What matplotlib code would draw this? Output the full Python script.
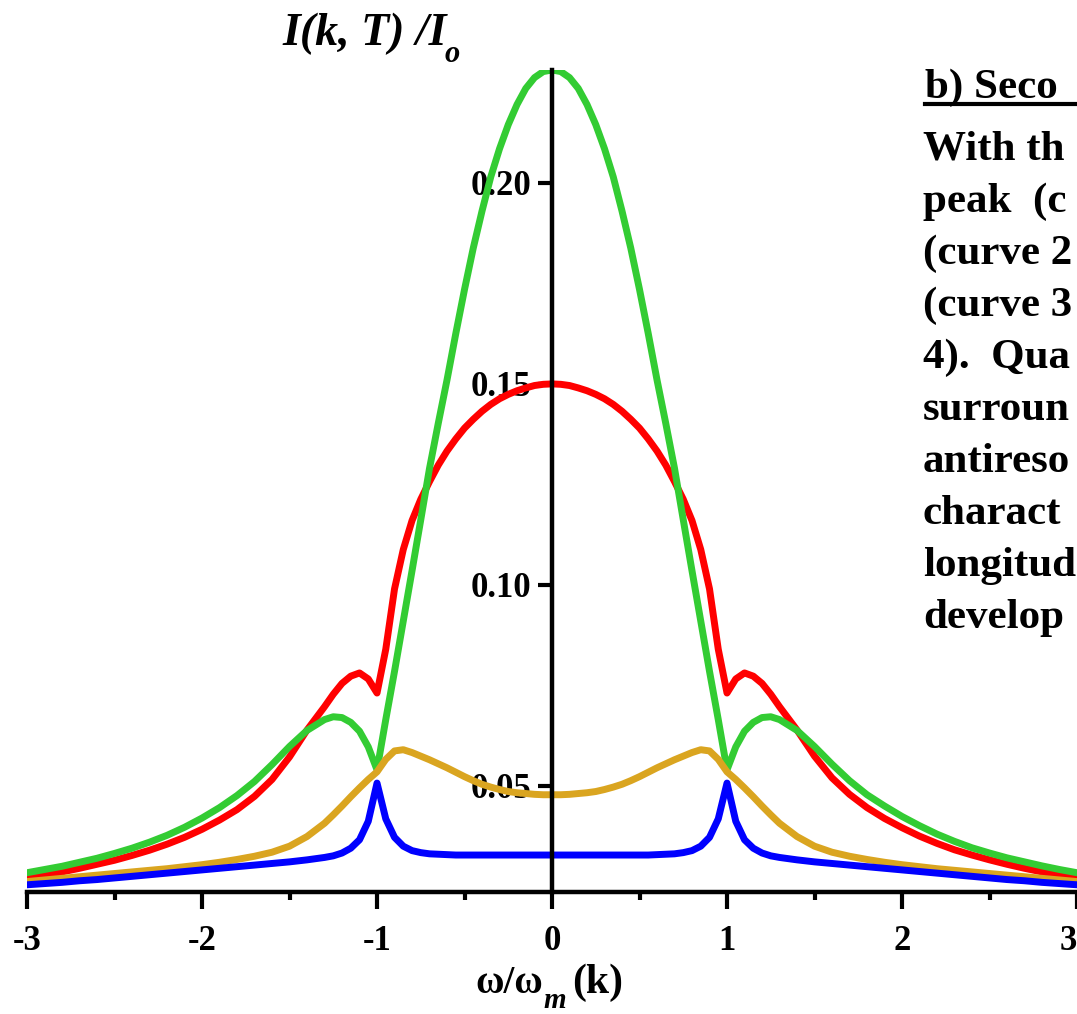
import matplotlib
matplotlib.use("Agg")
import matplotlib.pyplot as plt
from matplotlib.lines import Line2D

# frequency grid (omega / omega_m), finer around the resonances
w = [-3.0, -2.9, -2.8, -2.7, -2.6, -2.5, -2.4, -2.3, -2.2, -2.1, -2.0, -1.9, -1.8, -1.7,
     -1.6, -1.5, -1.4, -1.3, -1.25, -1.2, -1.15, -1.1, -1.05, -1.0, -0.95, -0.9, -0.85,
     -0.8, -0.75, -0.7, -0.65, -0.6, -0.55, -0.5, -0.45, -0.4, -0.35, -0.3, -0.25, -0.2,
     -0.15, -0.1, -0.05, 0.0, 0.05, 0.1, 0.15, 0.2, 0.25, 0.3, 0.35, 0.4, 0.45, 0.5, 0.55,
     0.6, 0.65, 0.7, 0.75, 0.8, 0.85, 0.9, 0.95, 1.0, 1.05, 1.1, 1.15, 1.2, 1.25, 1.3, 1.4,
     1.5, 1.6, 1.7, 1.8, 1.9, 2.0, 2.1, 2.2, 2.3, 2.4, 2.5, 2.6, 2.7, 2.8, 2.9, 3.0]

red = [0.0271, 0.0278, 0.0286, 0.0295, 0.0305, 0.0315, 0.0327, 0.0340, 0.0355, 0.0372,
       0.0392, 0.0415, 0.0441, 0.0474, 0.0516, 0.0572, 0.0639, 0.0697, 0.0728, 0.0755,
       0.0773, 0.0781, 0.0766, 0.0731, 0.0840, 0.0990, 0.1088, 0.1160, 0.1213, 0.1257,
       0.1298, 0.1333, 0.1363, 0.1390, 0.1412, 0.1432, 0.1449, 0.1463, 0.1474, 0.1483,
       0.1490, 0.1496, 0.1499, 0.1500, 0.1499, 0.1496, 0.1490, 0.1483, 0.1474, 0.1463,
       0.1449, 0.1432, 0.1412, 0.1390, 0.1363, 0.1333, 0.1298, 0.1257, 0.1213, 0.1160,
       0.1088, 0.0990, 0.0840, 0.0731, 0.0766, 0.0781, 0.0773, 0.0755, 0.0728, 0.0697,
       0.0639, 0.0574, 0.0520, 0.0479, 0.0446, 0.0419, 0.0396, 0.0375, 0.0357, 0.0341,
       0.0328, 0.0316, 0.0305, 0.0295, 0.0286, 0.0278, 0.0271]

green = [0.0284, 0.0292, 0.0300, 0.0310, 0.0320, 0.0332, 0.0345, 0.0360, 0.0377, 0.0397,
         0.0420, 0.0446, 0.0476, 0.0511, 0.0553, 0.0598, 0.0638, 0.0665, 0.0672, 0.0670,
         0.0658, 0.0636, 0.0597, 0.0540, 0.0665, 0.0785, 0.0910, 0.1035, 0.1162, 0.1290,
         0.1402, 0.1510, 0.1625, 0.1735, 0.1838, 0.1930, 0.2015, 0.2085, 0.2145, 0.2195,
         0.2235, 0.2262, 0.2277, 0.2281, 0.2277, 0.2262, 0.2235, 0.2195, 0.2145, 0.2085,
         0.2015, 0.1930, 0.1838, 0.1735, 0.1625, 0.1510, 0.1402, 0.1290, 0.1162, 0.1035,
         0.0910, 0.0785, 0.0665, 0.0540, 0.0597, 0.0636, 0.0658, 0.0670, 0.0672, 0.0665,
         0.0638, 0.0598, 0.0554, 0.0513, 0.0478, 0.0450, 0.0424, 0.0401, 0.0380, 0.0362,
         0.0346, 0.0333, 0.0321, 0.0311, 0.0301, 0.0292, 0.0284]

orange = [0.0262, 0.0266, 0.0270, 0.0274, 0.0278, 0.0282, 0.0286, 0.0290, 0.0294, 0.0299,
          0.0304, 0.0310, 0.0317, 0.0325, 0.0335, 0.0350, 0.0374, 0.0407, 0.0428, 0.0450,
          0.0473, 0.0495, 0.0516, 0.0535, 0.0566, 0.0587, 0.0590, 0.0583, 0.0574, 0.0565,
          0.0555, 0.0545, 0.0534, 0.0523, 0.0513, 0.0504, 0.0497, 0.0491, 0.0486, 0.0483,
          0.0481, 0.0479, 0.0478, 0.0478, 0.0478, 0.0479, 0.0481, 0.0483, 0.0486, 0.0491,
          0.0497, 0.0504, 0.0513, 0.0523, 0.0534, 0.0545, 0.0555, 0.0565, 0.0574, 0.0583,
          0.0590, 0.0587, 0.0566, 0.0535, 0.0516, 0.0495, 0.0473, 0.0450, 0.0428, 0.0407,
          0.0374, 0.0350, 0.0335, 0.0325, 0.0317, 0.0310, 0.0304, 0.0299, 0.0294, 0.0290,
          0.0286, 0.0282, 0.0278, 0.0274, 0.0270, 0.0266, 0.0262]

blue = [0.0254, 0.0257, 0.0260, 0.0264, 0.0267, 0.0271, 0.0275, 0.0279, 0.0283, 0.0287,
        0.0291, 0.0295, 0.0299, 0.0303, 0.0307, 0.0311, 0.0316, 0.0322, 0.0326, 0.0333,
        0.0345, 0.0366, 0.0412, 0.0507, 0.0418, 0.0372, 0.0350, 0.0339, 0.0334, 0.0331,
        0.0330, 0.0329, 0.0328, 0.0328, 0.0328, 0.0328, 0.0328, 0.0328, 0.0328, 0.0328,
        0.0328, 0.0328, 0.0328, 0.0328, 0.0328, 0.0328, 0.0328, 0.0328, 0.0328, 0.0328,
        0.0328, 0.0328, 0.0328, 0.0328, 0.0328, 0.0329, 0.0330, 0.0331, 0.0334, 0.0339,
        0.0350, 0.0372, 0.0418, 0.0507, 0.0412, 0.0366, 0.0345, 0.0333, 0.0326, 0.0322,
        0.0316, 0.0311, 0.0307, 0.0303, 0.0299, 0.0295, 0.0291, 0.0287, 0.0283, 0.0279,
        0.0275, 0.0271, 0.0267, 0.0264, 0.0260, 0.0257, 0.0254]

xticks = [-3, -2, -1, 0, 1, 2, 3]
xtick_labels = ["-3", "-2", "-1", "0", "1", "2", "3"]
yticks = [0.05, 0.10, 0.15, 0.20]
ytick_labels = ["0.05", "0.10", "0.15", "0.20"]

# the text block beside the plot is cropped by the picture edge
heading = "b) Seco"
note_lines = ["With th", "peak  (c", "(curve 2", "(curve 3", "4).  Qua",
              "surroun", "antireso", "charact", "longitud", "develop"]

serif = "Liberation Serif"

fig = plt.figure(figsize=(10.77, 10.14), dpi=100)
ax = fig.add_axes([0.0251, 0.1203, 0.9749, 0.8107])

ax.plot(w, red, color="#ff0000", lw=5, zorder=2.0, solid_joinstyle="round")
ax.plot(w, green, color="#33cc33", lw=5, zorder=2.1, solid_joinstyle="round")
ax.plot(w, orange, color="#daa520", lw=5, zorder=2.2, solid_joinstyle="round")
ax.plot(w, blue, color="#0000ff", lw=5, zorder=2.3, solid_joinstyle="round")

ax.set_xlim(-3, 3)
ax.set_ylim(0.0236, 0.2281)

# maple style axes: vertical axis through zero
ax.spines["left"].set_position(("data", 0))
ax.spines["top"].set_visible(False)
ax.spines["right"].set_visible(False)
ax.spines["left"].set_linewidth(3.2)
ax.spines["bottom"].set_linewidth(3.2)

ax.set_xticks(xticks)
ax.set_xticklabels(xtick_labels)
ax.set_xticks([-2.5, -1.5, -0.5, 0.5, 1.5, 2.5], minor=True)
ax.set_yticks(yticks)
ax.set_yticklabels(ytick_labels)
ax.tick_params(axis="x", which="major", direction="out", length=12, width=3, pad=12)
ax.tick_params(axis="x", which="minor", direction="out", length=6, width=3)
ax.tick_params(axis="y", direction="out", length=10, width=3, pad=5)
for lab in ax.get_xticklabels() + ax.get_yticklabels():
    lab.set_fontfamily(serif)
    lab.set_fontweight("bold")
    lab.set_fontsize(25)
# last tick label sits on the picture edge
ax.get_xticklabels()[-1].set_horizontalalignment("right")

# axis titles
fig.text(0.262, 0.956, "I(k, T) /I", family=serif, style="italic", weight="bold", fontsize=33)
fig.text(0.413, 0.939, "o", family=serif, style="italic", weight="bold", fontsize=22)
fig.text(0.441, 0.021, "\u03c9/\u03c9", family=serif, weight="bold", fontsize=28)
fig.text(0.505, 0.006, "m", family=serif, style="italic", weight="bold", fontsize=21)
fig.text(0.531, 0.021, "(k)", family=serif, weight="bold", fontsize=30)

fig.text(0.859, 0.903, heading, family=serif, weight="bold", fontsize=31)
fig.add_artist(Line2D([0.859, 1.0], [0.897, 0.897], color="black", lw=3,
                      transform=fig.transFigure))
for i, line in enumerate(note_lines):
    y_px = 160 + 52 * i
    fig.text(0.857, 1 - y_px / 1014, line, family=serif, weight="bold", fontsize=31)

fig.savefig("out.png", dpi=100)
